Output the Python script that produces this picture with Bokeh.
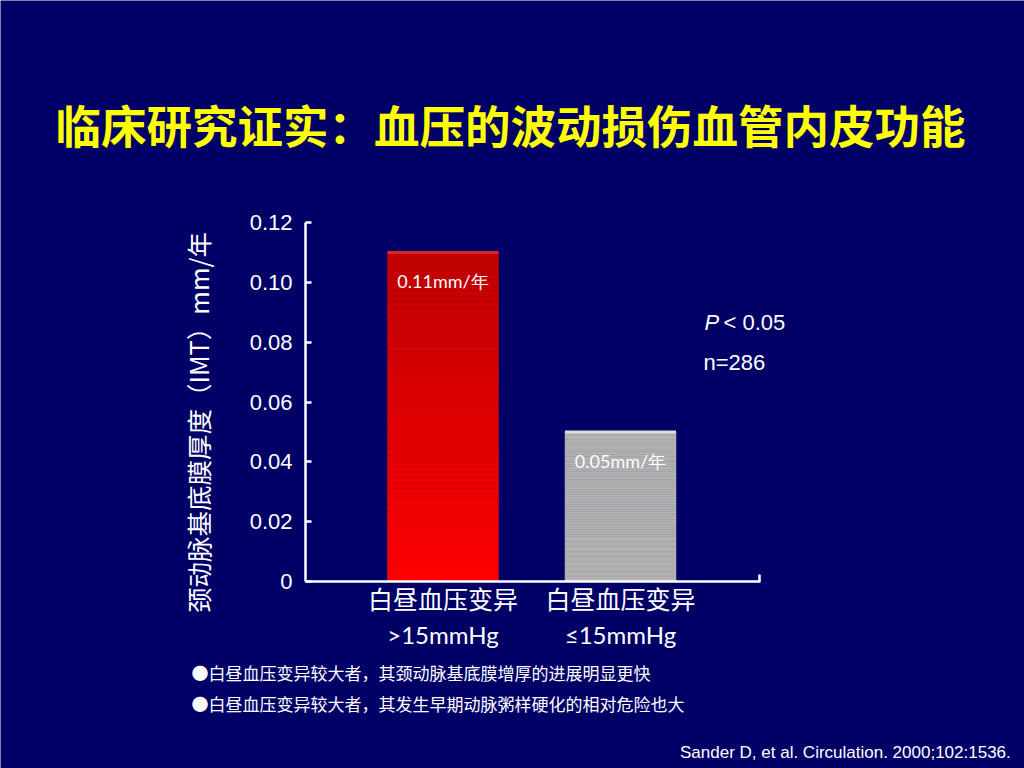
import numpy as np
from bokeh.plotting import figure
from bokeh.models import Range1d, FixedTicker, LinearAxis, Label, NumeralTickFormatter
from bokeh.core.properties import value
from bokeh.embed import file_html
from bokeh.resources import INLINE

# ---------------- data ----------------
title_text = "临床研究证实：血压的波动损伤血管内皮功能"
cat_line1 = ["白昼血压变异", "白昼血压变异"]
cat_line2 = [">15mmHg", "≤15mmHg"]
imt_rate = [0.11, 0.05]
bar_labels = ["0.11mm/年", "0.05mm/年"]
y_ticks = [0, 0.02, 0.04, 0.06, 0.08, 0.10, 0.12]
y_axis_title = "颈动脉基底膜厚度（IMT）mm/年"
stat_p_symbol = "P"
stat_p_text = "< 0.05"
stat_n_text = "n=286"
bullets = ["●白昼血压变异较大者，其颈动脉基底膜增厚的进展明显更快",
           "●白昼血压变异较大者，其发生早期动脉粥样硬化的相对危险也大"]
citation = "Sander D, et al.  Circulation. 2000;102:1536."

# ---------------- styles / layout ----------------
BG = "#000066"
bar_top_colors = [(192, 0, 0), (178, 178, 178)]
bar_bottom_colors = [(255, 0, 0), (178, 178, 178)]
bar_highlight = ["#d42a2a", "#dcdcdc"]
CJK = "Noto Sans CJK SC"
W, H = 1024, 768
AX_L, AX_R, AX_T, AX_B = 305, 760, 222, 581   # page pixels of the axes box
CAT0_PX = 442.5                               # page x of first category centre
PX_PER_CAT = 177.5
y_max = 0.12
k = y_max / (AX_B - AX_T)                      # data units per pixel (y)

x_lo = -CAT0_PX / PX_PER_CAT
x_hi = (W - CAT0_PX) / PX_PER_CAT
x_axis_start = (AX_L - CAT0_PX) / PX_PER_CAT
x_axis_end = (AX_R - CAT0_PX) / PX_PER_CAT
y_lo = -(H - AX_B) * k
y_hi = AX_B * k

xs = list(range(len(imt_rate)))
bar_w = 111 / PX_PER_CAT

p = figure(width=W, height=H, x_range=Range1d(x_lo, x_hi), y_range=Range1d(y_lo, y_hi),
           output_backend="svg", toolbar_location=None,
           background_fill_color=BG, border_fill_color=BG, outline_line_color=None,
           min_border=0, min_border_left=0, min_border_right=0, min_border_top=0,
           min_border_bottom=0, x_axis_type=None, y_axis_type=None)

# y axis
yaxis = LinearAxis(fixed_location=x_axis_start,
                   ticker=FixedTicker(ticks=y_ticks, minor_ticks=[]),
                   formatter=NumeralTickFormatter(format="0.00"),
                   major_label_overrides={0: "0"}, bounds=(0, y_max),
                   axis_line_color="white", axis_line_width=2.5,
                   major_tick_line_color="white", major_tick_line_width=2.5,
                   major_tick_in=6, major_tick_out=0, minor_tick_line_color=None,
                   major_label_text_color="white", major_label_text_font="Liberation Sans",
                   major_label_text_font_size="22px", major_label_standoff=13)
p.add_layout(yaxis, "left")

# x axis (line 1 of category labels)
xaxis1 = LinearAxis(fixed_location=0,
                    ticker=FixedTicker(ticks=xs, minor_ticks=[x_axis_end - 0.004]),
                    bounds=(x_axis_start, x_axis_end),
                    major_label_overrides={i: t for i, t in zip(xs, cat_line1)},
                    axis_line_color="white", axis_line_width=2.5,
                    major_tick_in=0, major_tick_out=0, major_tick_line_color=None,
                    minor_tick_in=7, minor_tick_out=0, minor_tick_line_color="white",
                    minor_tick_line_width=2.5,
                    major_label_text_color="white", major_label_text_font=CJK,
                    major_label_text_font_size="25px", major_label_standoff=-2)
p.add_layout(xaxis1, "below")

# x axis (line 2 of category labels)
xaxis2 = LinearAxis(fixed_location=0,
                    ticker=FixedTicker(ticks=xs, minor_ticks=[]),
                    bounds=(x_axis_start, x_axis_end),
                    major_label_overrides={i: t for i, t in zip(xs, cat_line2)},
                    axis_line_color=None, major_tick_line_color=None, minor_tick_line_color=None,
                    major_label_text_color="white", major_label_text_font="Lato",
                    major_label_text_font_size="24px", major_label_standoff=32)
p.add_layout(xaxis2, "below")

# bars drawn as gradient strips
N = 60
for i, (x, v) in enumerate(zip(xs, imt_rate)):
    fr = np.linspace(0.0, 1.0, N + 1)
    bottoms = v * fr[:-1]
    tops = v * fr[1:]
    t = (fr[:-1] + fr[1:]) / 2
    c0 = np.array(bar_bottom_colors[i]); c1 = np.array(bar_top_colors[i])
    cols = ["#%02x%02x%02x" % tuple(int(round(c)) for c in (c0 + (c1 - c0) * tt)) for tt in t]
    p.vbar(x=[x] * N, width=bar_w, bottom=bottoms, top=tops, fill_color=cols,
           line_color=cols, line_width=0.5)
    p.segment(x0=[x - bar_w / 2], x1=[x + bar_w / 2], y0=[v], y1=[v],
              line_color=bar_highlight[i], line_width=3)

p.text(x=xs, y=imt_rate, text=bar_labels, text_color="white", text_font=value("Lato"),
       text_font_size="18px", text_align="center", text_baseline="middle", y_offset=29)


def lab(text, xr, yr, **kw):
    # page coordinates -> label screen units (frame covers the whole canvas)
    return Label(x=xr, y=H - yr, x_units="screen", y_units="screen", text=text, **kw)


p.add_layout(lab(title_text, 55, 123, text_color="#ffff00", text_font=CJK,
                 text_font_size="45.5px", text_font_style="bold",
                 text_align="left", text_baseline="middle"))
p.add_layout(lab(y_axis_title, 197, 422, angle=np.pi / 2, text_color="white", text_font=CJK,
                 text_font_size="25.5px", text_align="center", text_baseline="middle"))
p.add_layout(lab(stat_p_symbol, 704, 322, text_color="white", text_font="Liberation Sans",
                 text_font_size="22px", text_font_style="italic",
                 text_align="left", text_baseline="middle"))
p.add_layout(lab(stat_p_text, 723, 322, text_color="white", text_font="Liberation Sans",
                 text_font_size="22px", text_align="left", text_baseline="middle"))
p.add_layout(lab(stat_n_text, 703, 362, text_color="white", text_font="Liberation Sans",
                 text_font_size="22px", text_align="left", text_baseline="middle"))
for j, b in enumerate(bullets):
    p.add_layout(lab(b, 191, 672 + 31 * j, text_color="white", text_font=CJK,
                     text_font_size="17px", text_align="left", text_baseline="middle"))
p.add_layout(lab(citation, 1015, 752, text_color="white", text_font="Liberation Sans",
                 text_font_size="17px", text_align="right", text_baseline="middle"))

open("out.html", "w").write(file_html(p, INLINE))
